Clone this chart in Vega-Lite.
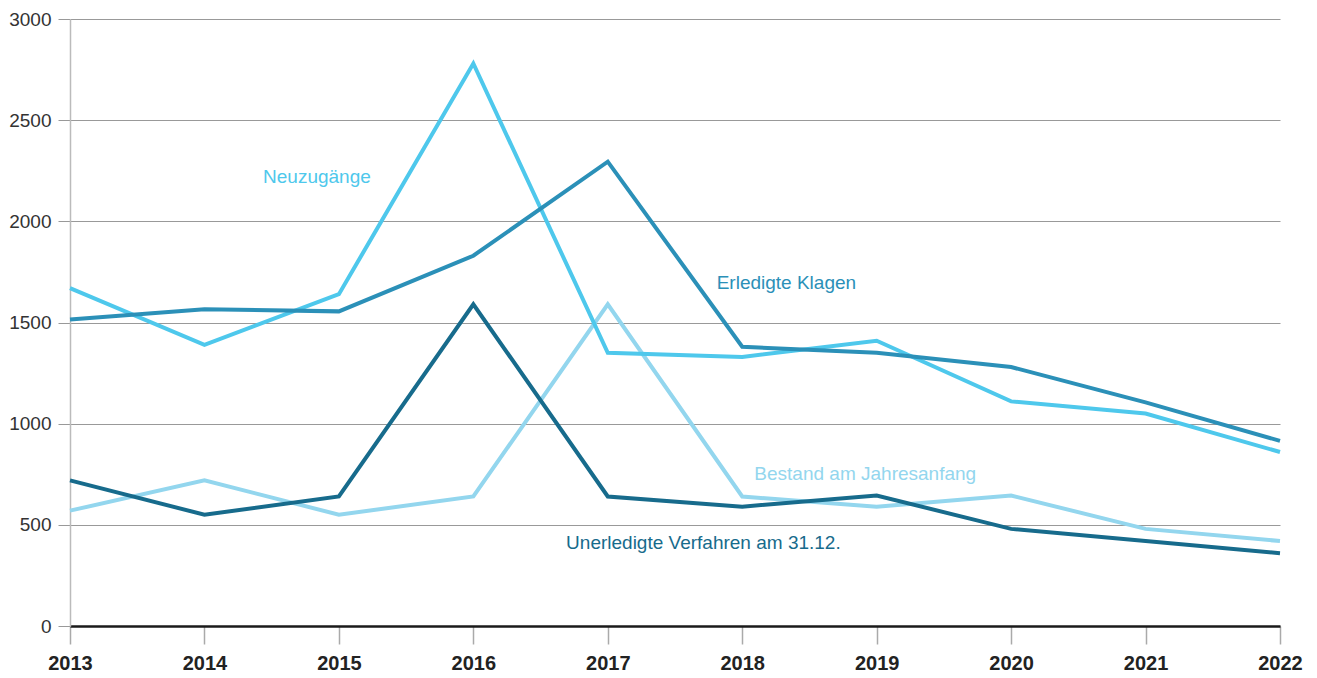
{
  "$schema": "https://vega.github.io/schema/vega-lite/v6.json",
  "width": 1210,
  "height": 607,
  "autosize": {"type": "none"},
  "padding": {"left": 70, "top": 19, "right": 37, "bottom": 52},
  "background": "white",
  "config": {
    "font": "Liberation Sans",
    "view": {"stroke": null}
  },
  "datasets": {
    "series": [
      {"year": 2013, "series": "Bestand am Jahresanfang", "value": 570},
      {"year": 2014, "series": "Bestand am Jahresanfang", "value": 720},
      {"year": 2015, "series": "Bestand am Jahresanfang", "value": 550},
      {"year": 2016, "series": "Bestand am Jahresanfang", "value": 640},
      {"year": 2017, "series": "Bestand am Jahresanfang", "value": 1590},
      {"year": 2018, "series": "Bestand am Jahresanfang", "value": 640},
      {"year": 2019, "series": "Bestand am Jahresanfang", "value": 590},
      {"year": 2020, "series": "Bestand am Jahresanfang", "value": 645},
      {"year": 2021, "series": "Bestand am Jahresanfang", "value": 480},
      {"year": 2022, "series": "Bestand am Jahresanfang", "value": 420},
      {"year": 2013, "series": "Neuzugänge", "value": 1670},
      {"year": 2014, "series": "Neuzugänge", "value": 1390},
      {"year": 2015, "series": "Neuzugänge", "value": 1640},
      {"year": 2016, "series": "Neuzugänge", "value": 2780},
      {"year": 2017, "series": "Neuzugänge", "value": 1350},
      {"year": 2018, "series": "Neuzugänge", "value": 1330},
      {"year": 2019, "series": "Neuzugänge", "value": 1410},
      {"year": 2020, "series": "Neuzugänge", "value": 1110},
      {"year": 2021, "series": "Neuzugänge", "value": 1050},
      {"year": 2022, "series": "Neuzugänge", "value": 860},
      {"year": 2013, "series": "Erledigte Klagen", "value": 1515},
      {"year": 2014, "series": "Erledigte Klagen", "value": 1565},
      {"year": 2015, "series": "Erledigte Klagen", "value": 1555},
      {"year": 2016, "series": "Erledigte Klagen", "value": 1830},
      {"year": 2017, "series": "Erledigte Klagen", "value": 2295},
      {"year": 2018, "series": "Erledigte Klagen", "value": 1380},
      {"year": 2019, "series": "Erledigte Klagen", "value": 1350},
      {"year": 2020, "series": "Erledigte Klagen", "value": 1280},
      {"year": 2021, "series": "Erledigte Klagen", "value": 1105},
      {"year": 2022, "series": "Erledigte Klagen", "value": 915},
      {"year": 2013, "series": "Unerledigte Verfahren am 31.12.", "value": 720},
      {"year": 2014, "series": "Unerledigte Verfahren am 31.12.", "value": 550},
      {"year": 2015, "series": "Unerledigte Verfahren am 31.12.", "value": 640},
      {"year": 2016, "series": "Unerledigte Verfahren am 31.12.", "value": 1590},
      {"year": 2017, "series": "Unerledigte Verfahren am 31.12.", "value": 640},
      {"year": 2018, "series": "Unerledigte Verfahren am 31.12.", "value": 590},
      {"year": 2019, "series": "Unerledigte Verfahren am 31.12.", "value": 645},
      {"year": 2020, "series": "Unerledigte Verfahren am 31.12.", "value": 480},
      {"year": 2021, "series": "Unerledigte Verfahren am 31.12.", "value": 420},
      {"year": 2022, "series": "Unerledigte Verfahren am 31.12.", "value": 360}
    ],
    "labels": [
      {"series": "Neuzugänge", "lx": 2014.436, "ly": 2219},
      {"series": "Erledigte Klagen", "lx": 2017.81, "ly": 1695},
      {"series": "Bestand am Jahresanfang", "lx": 2018.09, "ly": 751},
      {"series": "Unerledigte Verfahren am 31.12.", "lx": 2016.69, "ly": 410}
    ]
  },
  "layer": [
    {
      "data": {"name": "series"},
      "mark": {"type": "line", "strokeWidth": 4, "strokeJoin": "miter"},
      "encoding": {
        "x": {
          "field": "year", "type": "quantitative",
          "scale": {"domain": [2013, 2022], "nice": false, "zero": false},
          "axis": {
            "values": [2013, 2014, 2015, 2016, 2017, 2018, 2019, 2020, 2021, 2022],
            "format": "d", "title": null, "grid": false,
            "domainColor": "#1a1a1a", "domainWidth": 2.5,
            "tickColor": "#aaaaaa", "tickSize": 18, "tickWidth": 1.5,
            "labelFont": "Liberation Sans", "labelFontSize": 20, "labelFontWeight": "bold",
            "labelColor": "#222222", "labelPadding": 9, "labelFlush": false
          }
        },
        "y": {
          "field": "value", "type": "quantitative",
          "scale": {"domain": [0, 3000], "nice": false},
          "axis": {
            "values": [0, 500, 1000, 1500, 2000, 2500, 3000],
            "format": "d",
            "title": null, "grid": true, "gridColor": "#999999", "gridWidth": 1,
            "domainColor": "#bbbbbb", "domainWidth": 1.5,
            "tickColor": "#999999", "tickSize": 12, "tickWidth": 1,
            "labelFont": "Liberation Sans", "labelFontSize": 19,
            "labelColor": "#333333", "labelPadding": 7
          }
        },
        "color": {
          "field": "series", "type": "nominal",
          "scale": {
            "domain": ["Bestand am Jahresanfang", "Neuzugänge", "Erledigte Klagen", "Unerledigte Verfahren am 31.12."],
            "range": ["#93d6ee", "#4ec8ec", "#2b90b8", "#176b8c"]
          },
          "legend": null
        },
        "order": {"field": "year"},
        "detail": {"field": "series"}
      }
    },
    {
      "data": {"name": "labels"},
      "mark": {"type": "text", "align": "left", "baseline": "middle", "fontSize": 19, "font": "Liberation Sans"},
      "encoding": {
        "x": {"field": "lx", "type": "quantitative"},
        "y": {"field": "ly", "type": "quantitative"},
        "text": {"field": "series"},
        "color": {"field": "series", "type": "nominal", "legend": null}
      }
    }
  ]
}
